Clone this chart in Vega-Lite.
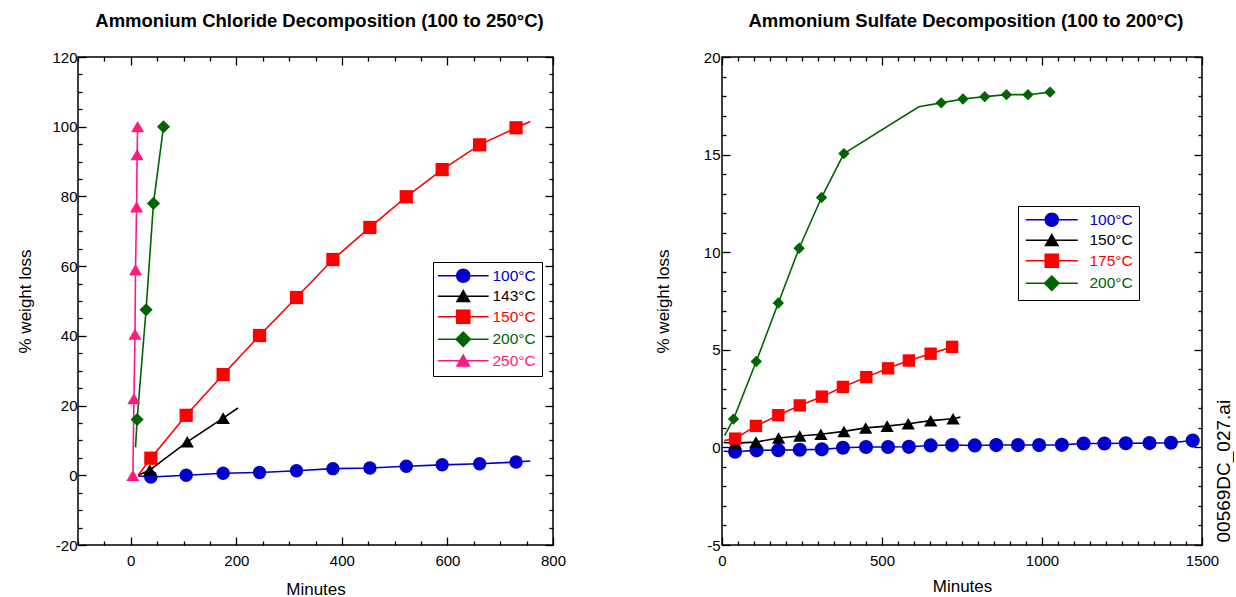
{
  "$schema": "https://vega.github.io/schema/vega-lite/v6.json",
  "padding": {"left": 16, "top": 10, "right": 0, "bottom": 0},
  "spacing": 87,
  "config": {
    "font": "Liberation Sans",
    "view": {"stroke": "#000000", "strokeWidth": 1.5},
    "axis": {
      "domain": false, "grid": false, "labelFont": "Liberation Sans", "labelFontSize": 15, "labelColor": "#000000",
      "titleFont": "Liberation Sans", "titleFontSize": 17, "titleFontWeight": "normal", "titleColor": "#000000",
      "tickColor": "#000000", "tickWidth": 1.3, "labelFlush": false, "labelOverlap": false
    },
    "title": {"font": "Liberation Sans", "fontSize": 18.5, "fontWeight": "bold", "color": "#000000"},
    "legend": {"labelFont": "Liberation Sans", "labelFontSize": 15.5}
  },
  "datasets": {
    "chlorideLine": [
      {"t": 14, "loss": -0.2, "series": "100°C"}, {"t": 38, "loss": -0.5, "series": "100°C"}, {"t": 105, "loss": 0, "series": "100°C"}, {"t": 175, "loss": 0.6, "series": "100°C"}, {"t": 244, "loss": 0.8, "series": "100°C"}, {"t": 314, "loss": 1.3, "series": "100°C"}, {"t": 383, "loss": 1.9, "series": "100°C"}, {"t": 453, "loss": 2.1, "series": "100°C"}, {"t": 522, "loss": 2.6, "series": "100°C"}, {"t": 590, "loss": 3.0, "series": "100°C"}, {"t": 661, "loss": 3.3, "series": "100°C"}, {"t": 730, "loss": 3.8, "series": "100°C"}, {"t": 757, "loss": 4.1, "series": "100°C"},
      {"t": 14, "loss": 0, "series": "143°C"}, {"t": 36, "loss": 1.5, "series": "143°C"}, {"t": 107, "loss": 9.6, "series": "143°C"}, {"t": 175, "loss": 16.4, "series": "143°C"}, {"t": 203, "loss": 19.3, "series": "143°C"},
      {"t": 14, "loss": 0, "series": "150°C"}, {"t": 38, "loss": 4.9, "series": "150°C"}, {"t": 105, "loss": 17.2, "series": "150°C"}, {"t": 175, "loss": 28.9, "series": "150°C"}, {"t": 244, "loss": 40.1, "series": "150°C"}, {"t": 314, "loss": 51, "series": "150°C"}, {"t": 383, "loss": 61.9, "series": "150°C"}, {"t": 453, "loss": 71.1, "series": "150°C"}, {"t": 522, "loss": 79.9, "series": "150°C"}, {"t": 590, "loss": 87.7, "series": "150°C"}, {"t": 661, "loss": 94.8, "series": "150°C"}, {"t": 730, "loss": 99.7, "series": "150°C"}, {"t": 757, "loss": 101.5, "series": "150°C"},
      {"t": 9, "loss": 8, "series": "200°C"}, {"t": 12, "loss": 16, "series": "200°C"}, {"t": 29, "loss": 47.5, "series": "200°C"}, {"t": 43, "loss": 78, "series": "200°C"}, {"t": 62, "loss": 100, "series": "200°C"},
      {"t": 4, "loss": 0, "series": "250°C"}, {"t": 6, "loss": 22, "series": "250°C"}, {"t": 8, "loss": 40.5, "series": "250°C"}, {"t": 9, "loss": 59, "series": "250°C"}, {"t": 11, "loss": 77, "series": "250°C"}, {"t": 12, "loss": 92, "series": "250°C"}, {"t": 13, "loss": 100, "series": "250°C"}
    ],
    "chlorideMarks": [
      {"t": 38, "loss": -0.5, "series": "100°C"}, {"t": 105, "loss": 0, "series": "100°C"}, {"t": 175, "loss": 0.6, "series": "100°C"}, {"t": 244, "loss": 0.8, "series": "100°C"}, {"t": 314, "loss": 1.3, "series": "100°C"}, {"t": 383, "loss": 1.9, "series": "100°C"}, {"t": 453, "loss": 2.1, "series": "100°C"}, {"t": 522, "loss": 2.6, "series": "100°C"}, {"t": 590, "loss": 3.0, "series": "100°C"}, {"t": 661, "loss": 3.3, "series": "100°C"}, {"t": 730, "loss": 3.8, "series": "100°C"},
      {"t": 36, "loss": 1.5, "series": "143°C"}, {"t": 107, "loss": 9.6, "series": "143°C"}, {"t": 175, "loss": 16.4, "series": "143°C"},
      {"t": 38, "loss": 4.9, "series": "150°C"}, {"t": 105, "loss": 17.2, "series": "150°C"}, {"t": 175, "loss": 28.9, "series": "150°C"}, {"t": 244, "loss": 40.1, "series": "150°C"}, {"t": 314, "loss": 51, "series": "150°C"}, {"t": 383, "loss": 61.9, "series": "150°C"}, {"t": 453, "loss": 71.1, "series": "150°C"}, {"t": 522, "loss": 79.9, "series": "150°C"}, {"t": 590, "loss": 87.7, "series": "150°C"}, {"t": 661, "loss": 94.8, "series": "150°C"}, {"t": 730, "loss": 99.7, "series": "150°C"},
      {"t": 12, "loss": 16, "series": "200°C"}, {"t": 29, "loss": 47.5, "series": "200°C"}, {"t": 43, "loss": 78, "series": "200°C"}, {"t": 62, "loss": 100, "series": "200°C"},
      {"t": 4, "loss": 0, "series": "250°C"}, {"t": 6, "loss": 22, "series": "250°C"}, {"t": 8, "loss": 40.5, "series": "250°C"}, {"t": 9, "loss": 59, "series": "250°C"}, {"t": 11, "loss": 77, "series": "250°C"}, {"t": 12, "loss": 92, "series": "250°C"}, {"t": 13, "loss": 100, "series": "250°C"}
    ],
    "sulfateLine": [
      {"t": 5, "loss": -0.2, "series": "100°C"}, {"t": 41, "loss": -0.22, "series": "100°C"}, {"t": 108, "loss": -0.15, "series": "100°C"}, {"t": 176, "loss": -0.14, "series": "100°C"}, {"t": 243, "loss": -0.12, "series": "100°C"}, {"t": 312, "loss": -0.1, "series": "100°C"}, {"t": 378, "loss": -0.02, "series": "100°C"}, {"t": 450, "loss": 0.02, "series": "100°C"}, {"t": 519, "loss": 0.02, "series": "100°C"}, {"t": 584, "loss": 0.03, "series": "100°C"}, {"t": 652, "loss": 0.1, "series": "100°C"}, {"t": 719, "loss": 0.12, "series": "100°C"}, {"t": 790, "loss": 0.1, "series": "100°C"}, {"t": 857, "loss": 0.12, "series": "100°C"}, {"t": 925, "loss": 0.12, "series": "100°C"}, {"t": 991, "loss": 0.12, "series": "100°C"}, {"t": 1062, "loss": 0.13, "series": "100°C"}, {"t": 1130, "loss": 0.2, "series": "100°C"}, {"t": 1195, "loss": 0.2, "series": "100°C"}, {"t": 1262, "loss": 0.21, "series": "100°C"}, {"t": 1336, "loss": 0.22, "series": "100°C"}, {"t": 1403, "loss": 0.24, "series": "100°C"}, {"t": 1471, "loss": 0.35, "series": "100°C"},
      {"t": 5, "loss": 0.25, "series": "150°C"}, {"t": 41, "loss": 0.22, "series": "150°C"}, {"t": 106, "loss": 0.27, "series": "150°C"}, {"t": 177, "loss": 0.48, "series": "150°C"}, {"t": 243, "loss": 0.58, "series": "150°C"}, {"t": 309, "loss": 0.67, "series": "150°C"}, {"t": 381, "loss": 0.82, "series": "150°C"}, {"t": 449, "loss": 1.0, "series": "150°C"}, {"t": 516, "loss": 1.09, "series": "150°C"}, {"t": 582, "loss": 1.21, "series": "150°C"}, {"t": 652, "loss": 1.37, "series": "150°C"}, {"t": 722, "loss": 1.47, "series": "150°C"}, {"t": 745, "loss": 1.55, "series": "150°C"},
      {"t": 7, "loss": 0.35, "series": "175°C"}, {"t": 41, "loss": 0.45, "series": "175°C"}, {"t": 106, "loss": 1.1, "series": "175°C"}, {"t": 176, "loss": 1.65, "series": "175°C"}, {"t": 243, "loss": 2.15, "series": "175°C"}, {"t": 312, "loss": 2.6, "series": "175°C"}, {"t": 378, "loss": 3.1, "series": "175°C"}, {"t": 451, "loss": 3.6, "series": "175°C"}, {"t": 519, "loss": 4.05, "series": "175°C"}, {"t": 584, "loss": 4.45, "series": "175°C"}, {"t": 652, "loss": 4.8, "series": "175°C"}, {"t": 719, "loss": 5.15, "series": "175°C"},
      {"t": 8, "loss": 0.6, "series": "200°C"}, {"t": 36, "loss": 1.45, "series": "200°C"}, {"t": 107, "loss": 4.4, "series": "200°C"}, {"t": 176, "loss": 7.4, "series": "200°C"}, {"t": 241, "loss": 10.2, "series": "200°C"}, {"t": 311, "loss": 12.8, "series": "200°C"}, {"t": 381, "loss": 15.05, "series": "200°C"}, {"t": 615, "loss": 17.45, "series": "200°C"}, {"t": 685, "loss": 17.65, "series": "200°C"}, {"t": 753, "loss": 17.85, "series": "200°C"}, {"t": 821, "loss": 17.97, "series": "200°C"}, {"t": 889, "loss": 18.07, "series": "200°C"}, {"t": 956, "loss": 18.07, "series": "200°C"}, {"t": 1025, "loss": 18.2, "series": "200°C"}
    ],
    "sulfateMarks": [
      {"t": 41, "loss": -0.22, "series": "100°C"}, {"t": 108, "loss": -0.15, "series": "100°C"}, {"t": 176, "loss": -0.14, "series": "100°C"}, {"t": 243, "loss": -0.12, "series": "100°C"}, {"t": 312, "loss": -0.1, "series": "100°C"}, {"t": 378, "loss": -0.02, "series": "100°C"}, {"t": 450, "loss": 0.02, "series": "100°C"}, {"t": 519, "loss": 0.02, "series": "100°C"}, {"t": 584, "loss": 0.03, "series": "100°C"}, {"t": 652, "loss": 0.1, "series": "100°C"}, {"t": 719, "loss": 0.12, "series": "100°C"}, {"t": 790, "loss": 0.1, "series": "100°C"}, {"t": 857, "loss": 0.12, "series": "100°C"}, {"t": 925, "loss": 0.12, "series": "100°C"}, {"t": 991, "loss": 0.12, "series": "100°C"}, {"t": 1062, "loss": 0.13, "series": "100°C"}, {"t": 1130, "loss": 0.2, "series": "100°C"}, {"t": 1195, "loss": 0.2, "series": "100°C"}, {"t": 1262, "loss": 0.21, "series": "100°C"}, {"t": 1336, "loss": 0.22, "series": "100°C"}, {"t": 1403, "loss": 0.24, "series": "100°C"}, {"t": 1471, "loss": 0.35, "series": "100°C"},
      {"t": 41, "loss": 0.22, "series": "150°C"}, {"t": 106, "loss": 0.27, "series": "150°C"}, {"t": 177, "loss": 0.48, "series": "150°C"}, {"t": 243, "loss": 0.58, "series": "150°C"}, {"t": 309, "loss": 0.67, "series": "150°C"}, {"t": 381, "loss": 0.82, "series": "150°C"}, {"t": 449, "loss": 1.0, "series": "150°C"}, {"t": 516, "loss": 1.09, "series": "150°C"}, {"t": 582, "loss": 1.21, "series": "150°C"}, {"t": 652, "loss": 1.37, "series": "150°C"}, {"t": 722, "loss": 1.47, "series": "150°C"},
      {"t": 41, "loss": 0.45, "series": "175°C"}, {"t": 106, "loss": 1.1, "series": "175°C"}, {"t": 176, "loss": 1.65, "series": "175°C"}, {"t": 243, "loss": 2.15, "series": "175°C"}, {"t": 312, "loss": 2.6, "series": "175°C"}, {"t": 378, "loss": 3.1, "series": "175°C"}, {"t": 451, "loss": 3.6, "series": "175°C"}, {"t": 519, "loss": 4.05, "series": "175°C"}, {"t": 584, "loss": 4.45, "series": "175°C"}, {"t": 652, "loss": 4.8, "series": "175°C"}, {"t": 719, "loss": 5.15, "series": "175°C"},
      {"t": 36, "loss": 1.45, "series": "200°C"}, {"t": 107, "loss": 4.4, "series": "200°C"}, {"t": 176, "loss": 7.4, "series": "200°C"}, {"t": 241, "loss": 10.2, "series": "200°C"}, {"t": 311, "loss": 12.8, "series": "200°C"}, {"t": 381, "loss": 15.05, "series": "200°C"}, {"t": 685, "loss": 17.65, "series": "200°C"}, {"t": 753, "loss": 17.85, "series": "200°C"}, {"t": 821, "loss": 17.97, "series": "200°C"}, {"t": 889, "loss": 18.07, "series": "200°C"}, {"t": 956, "loss": 18.07, "series": "200°C"}, {"t": 1025, "loss": 18.2, "series": "200°C"}
    ]
  },
  "hconcat": [
    {
      "width": 475,
      "height": 488,
      "title": {"text": "Ammonium Chloride Decomposition (100 to 250°C)", "offset": 20, "dx": 4},
      "resolve": {"scale": {"shape": "independent", "fill": "independent", "stroke": "independent"}},
      "layer": [
        {
          "data": {"name": "chlorideLine"},
          "mark": {"type": "line", "strokeWidth": 1.6, "clip": true},
          "encoding": {
            "x": {"field": "t", "type": "quantitative", "scale": {"domain": [-100, 800], "nice": false, "zero": false},
              "axis": {"orient": "top", "title": null, "labels": false,
                "values": [-100,-50,0,50,100,150,200,250,300,350,400,450,500,550,600,650,700,750,800],
                "tickSize": {"condition": {"test": "datum.value % 200 === 0", "value": -8}, "value": -4}}},
            "y": {"field": "loss", "type": "quantitative", "scale": {"domain": [-20, 120], "nice": false, "zero": false},
              "axis": {"orient": "right", "title": null, "labels": false,
                "values": [-20,-15,-10,-5,0,5,10,15,20,25,30,35,40,45,50,55,60,65,70,75,80,85,90,95,100,105,110,115,120],
                "tickSize": {"condition": {"test": "datum.value % 20 === 0", "value": -8}, "value": -4}}},
            "color": {"field": "series", "type": "nominal",
              "scale": {"domain": ["100°C","143°C","150°C","200°C","250°C"], "range": ["#0000cc","#000000","#ff0000","#006400","#ff1a80"]},
              "legend": null}
          }
        },
        {
          "data": {"name": "chlorideMarks"},
          "mark": {"type": "point", "filled": true, "opacity": 1, "clip": true},
          "encoding": {
            "x": {"field": "t", "type": "quantitative", "scale": {"domain": [-100, 800], "nice": false, "zero": false},
              "axis": {"orient": "bottom", "title": "Minutes", "labelPadding": 16, "titlePadding": 9,
                "values": [-100,-50,0,50,100,150,200,250,300,350,400,450,500,550,600,650,700,750,800],
                "labelExpr": "datum.value % 200 === 0 ? '' + datum.value : ''",
                "tickSize": {"condition": {"test": "datum.value % 200 === 0", "value": -8}, "value": -4}}},
            "y": {"field": "loss", "type": "quantitative", "scale": {"domain": [-20, 120], "nice": false, "zero": false},
              "axis": {"orient": "left", "title": "% weight loss", "labelPadding": 9, "titlePadding": 17,
                "values": [-20,-15,-10,-5,0,5,10,15,20,25,30,35,40,45,50,55,60,65,70,75,80,85,90,95,100,105,110,115,120],
                "labelExpr": "datum.value % 20 === 0 ? '' + datum.value : ''",
                "tickSize": {"condition": {"test": "datum.value % 20 === 0", "value": -8}, "value": -4}}},
            "color": {"field": "series", "type": "nominal",
              "scale": {"domain": ["100°C","143°C","150°C","200°C","250°C"], "range": ["#0000cc","#000000","#ff0000","#006400","#ff1a80"]},
              "legend": null},
            "shape": {"field": "series", "type": "nominal",
              "scale": {"domain": ["100°C","143°C","150°C","200°C","250°C"], "range": ["circle","triangle-up","square","diamond","triangle-up"]},
              "legend": null},
            "size": {"field": "series", "type": "nominal",
              "scale": {"domain": ["100°C","143°C","150°C","200°C","250°C"], "range": [180, 170, 225, 196, 170]},
              "legend": null}
          }
        },
        {
          "data": {"name": "chlorideMarks"},
          "mark": {"type": "point", "filled": true, "opacity": 0},
          "encoding": {
            "x": {"field": "t", "type": "quantitative", "axis": null},
            "y": {"field": "loss", "type": "quantitative", "axis": null},
            "fill": {"field": "series", "type": "nominal",
              "scale": {"domain": ["100°C","143°C","150°C","200°C","250°C"], "range": ["#0000cc","#000000","#ff0000","#006400","#ff1a80"]},
              "legend": {"title": null, "orient": "none", "legendX": 355, "legendY": 205, "padding": 6, "rowPadding": 1.5,
                "strokeColor": "#000000", "fillColor": "#ffffff", "symbolSize": 169, "symbolStrokeWidth": 1.6, "symbolOpacity": 1,
                "symbolOffset": 16.5, "labelOffset": 21.5, "labelFontSize": 15.5,
                "encode": {"labels": {"update": {
                    "fill": {"signal": "datum.value === '100°C' ? '#0000cc' : datum.value === '150°C' ? '#ff0000' : datum.value === '200°C' ? '#006400' : datum.value === '250°C' ? '#ff1a80' : '#000000'"}
                  }}}}},
            "stroke": {"field": "series", "type": "nominal",
              "scale": {"domain": ["100°C","143°C","150°C","200°C","250°C"], "range": ["#0000cc","#000000","#ff0000","#006400","#ff1a80"]},
              "legend": {"title": null, "orient": "none", "legendX": 355, "legendY": 205, "padding": 6, "rowPadding": 1.5,
                "strokeColor": "#000000", "fillColor": "#ffffff", "symbolSize": 169, "symbolStrokeWidth": 1.6, "symbolOpacity": 1,
                "symbolOffset": 16.5, "labelOffset": 21.5, "labelFontSize": 15.5}},
            "shape": {"field": "series", "type": "nominal",
              "scale": {"domain": ["100°C","143°C","150°C","200°C","250°C"],
                "range": ["M-3.9,0L3.9,0M-1,0A1,1,0,1,1,1,0A1,1,0,1,1,-1,0Z", "M-3.9,0L3.9,0M0,-0.85L0.95,0.8L-0.95,0.8Z", "M-3.9,0L3.9,0M-1,-1L1,-1L1,1L-1,1Z", "M-3.9,0L3.9,0M-1.1,0L0,-1.1L1.1,0L0,1.1Z", "M-3.9,0L3.9,0M0,-0.85L0.95,0.8L-0.95,0.8Z"]},
              "legend": {"title": null, "orient": "none", "legendX": 355, "legendY": 205, "padding": 6, "rowPadding": 1.5,
                "strokeColor": "#000000", "fillColor": "#ffffff", "symbolSize": 169, "symbolStrokeWidth": 1.6, "symbolOpacity": 1,
                "symbolOffset": 16.5, "labelOffset": 21.5, "labelFontSize": 15.5}}
          }
        }
      ]
    },
    {
      "width": 480,
      "height": 488,
      "title": {"text": "Ammonium Sulfate Decomposition (100 to 200°C)", "offset": 20, "dx": 4},
      "resolve": {"scale": {"shape": "independent", "fill": "independent", "stroke": "independent"}},
      "layer": [
        {
          "data": {"name": "sulfateLine"},
          "mark": {"type": "line", "strokeWidth": 1.6, "clip": true},
          "encoding": {
            "x": {"field": "t", "type": "quantitative", "scale": {"domain": [0, 1500], "nice": false, "zero": false},
              "axis": {"orient": "top", "title": null, "labels": false,
                "values": [0,50,100,150,200,250,300,350,400,450,500,550,600,650,700,750,800,850,900,950,1000,1050,1100,1150,1200,1250,1300,1350,1400,1450,1500],
                "tickSize": {"condition": {"test": "datum.value % 500 === 0", "value": -8}, "value": -4}}},
            "y": {"field": "loss", "type": "quantitative", "scale": {"domain": [-5, 20], "nice": false, "zero": false},
              "axis": {"orient": "right", "labels": false, "title": "00569DC_027.ai", "titleAngle": 270, "titleFontSize": 19,
                "titleX": 21, "titleY": 485, "titleAlign": "left", "titleBaseline": "middle",
                "values": [-5,-4,-3,-2,-1,0,1,2,3,4,5,6,7,8,9,10,11,12,13,14,15,16,17,18,19,20],
                "tickSize": {"condition": {"test": "datum.value % 5 === 0", "value": -8}, "value": -4}}},
            "color": {"field": "series", "type": "nominal",
              "scale": {"domain": ["100°C","150°C","175°C","200°C"], "range": ["#0000cc","#000000","#ff0000","#006400"]},
              "legend": null}
          }
        },
        {
          "data": {"name": "sulfateMarks"},
          "mark": {"type": "point", "filled": true, "opacity": 1, "clip": true},
          "encoding": {
            "x": {"field": "t", "type": "quantitative", "scale": {"domain": [0, 1500], "nice": false, "zero": false},
              "axis": {"orient": "bottom", "title": "Minutes", "labelPadding": 16, "titlePadding": 6,
                "values": [0,50,100,150,200,250,300,350,400,450,500,550,600,650,700,750,800,850,900,950,1000,1050,1100,1150,1200,1250,1300,1350,1400,1450,1500],
                "labelExpr": "datum.value % 500 === 0 ? '' + datum.value : ''",
                "tickSize": {"condition": {"test": "datum.value % 500 === 0", "value": -8}, "value": -4}}},
            "y": {"field": "loss", "type": "quantitative", "scale": {"domain": [-5, 20], "nice": false, "zero": false},
              "axis": {"orient": "left", "title": "% weight loss", "labelPadding": 10, "titlePadding": 30.5,
                "values": [-5,-4,-3,-2,-1,0,1,2,3,4,5,6,7,8,9,10,11,12,13,14,15,16,17,18,19,20],
                "labelExpr": "datum.value % 5 === 0 ? '' + datum.value : ''",
                "tickSize": {"condition": {"test": "datum.value % 5 === 0", "value": -8}, "value": -4}}},
            "color": {"field": "series", "type": "nominal",
              "scale": {"domain": ["100°C","150°C","175°C","200°C"], "range": ["#0000cc","#000000","#ff0000","#006400"]},
              "legend": null},
            "shape": {"field": "series", "type": "nominal",
              "scale": {"domain": ["100°C","150°C","175°C","200°C"], "range": ["circle","triangle-up","square","diamond"]},
              "legend": null},
            "size": {"field": "series", "type": "nominal",
              "scale": {"domain": ["100°C","150°C","175°C","200°C"], "range": [200, 130, 215, 175]},
              "legend": null}
          }
        },
        {
          "data": {"name": "sulfateMarks"},
          "mark": {"type": "point", "filled": true, "opacity": 0},
          "encoding": {
            "x": {"field": "t", "type": "quantitative", "axis": null},
            "y": {"field": "loss", "type": "quantitative", "axis": null},
            "fill": {"field": "series", "type": "nominal",
              "scale": {"domain": ["100°C","150°C","175°C","200°C"], "range": ["#0000cc","#000000","#ff0000","#006400"]},
              "legend": {"title": null, "orient": "none", "legendX": 296, "legendY": 149, "padding": 6, "rowPadding": 1.5,
                "strokeColor": "#000000", "fillColor": "#ffffff", "symbolSize": 169, "symbolStrokeWidth": 1.6, "symbolOpacity": 1,
                "symbolOffset": 20, "labelOffset": 30, "labelFontSize": 15.5,
                "encode": {"labels": {"update": {
                    "fill": {"signal": "datum.value === '100°C' ? '#0000cc' : datum.value === '175°C' ? '#ff0000' : datum.value === '200°C' ? '#006400' : '#000000'"}
                  }}}}},
            "stroke": {"field": "series", "type": "nominal",
              "scale": {"domain": ["100°C","150°C","175°C","200°C"], "range": ["#0000cc","#000000","#ff0000","#006400"]},
              "legend": {"title": null, "orient": "none", "legendX": 296, "legendY": 149, "padding": 6, "rowPadding": 1.5,
                "strokeColor": "#000000", "fillColor": "#ffffff", "symbolSize": 169, "symbolStrokeWidth": 1.6, "symbolOpacity": 1,
                "symbolOffset": 20, "labelOffset": 30, "labelFontSize": 15.5}},
            "shape": {"field": "series", "type": "nominal",
              "scale": {"domain": ["100°C","150°C","175°C","200°C"],
                "range": ["M-4,0L4,0M-1,0A1,1,0,1,1,1,0A1,1,0,1,1,-1,0Z", "M-4,0L4,0M0,-0.85L0.95,0.8L-0.95,0.8Z", "M-4,0L4,0M-1,-1L1,-1L1,1L-1,1Z", "M-4,0L4,0M-1.1,0L0,-1.1L1.1,0L0,1.1Z"]},
              "legend": {"title": null, "orient": "none", "legendX": 296, "legendY": 149, "padding": 6, "rowPadding": 1.5,
                "strokeColor": "#000000", "fillColor": "#ffffff", "symbolSize": 169, "symbolStrokeWidth": 1.6, "symbolOpacity": 1,
                "symbolOffset": 20, "labelOffset": 30, "labelFontSize": 15.5}}
          }
        }
      ]
    }
  ],
  "resolve": {"scale": {"color": "independent", "shape": "independent", "size": "independent", "fill": "independent", "stroke": "independent", "x": "independent", "y": "independent"}}
}
